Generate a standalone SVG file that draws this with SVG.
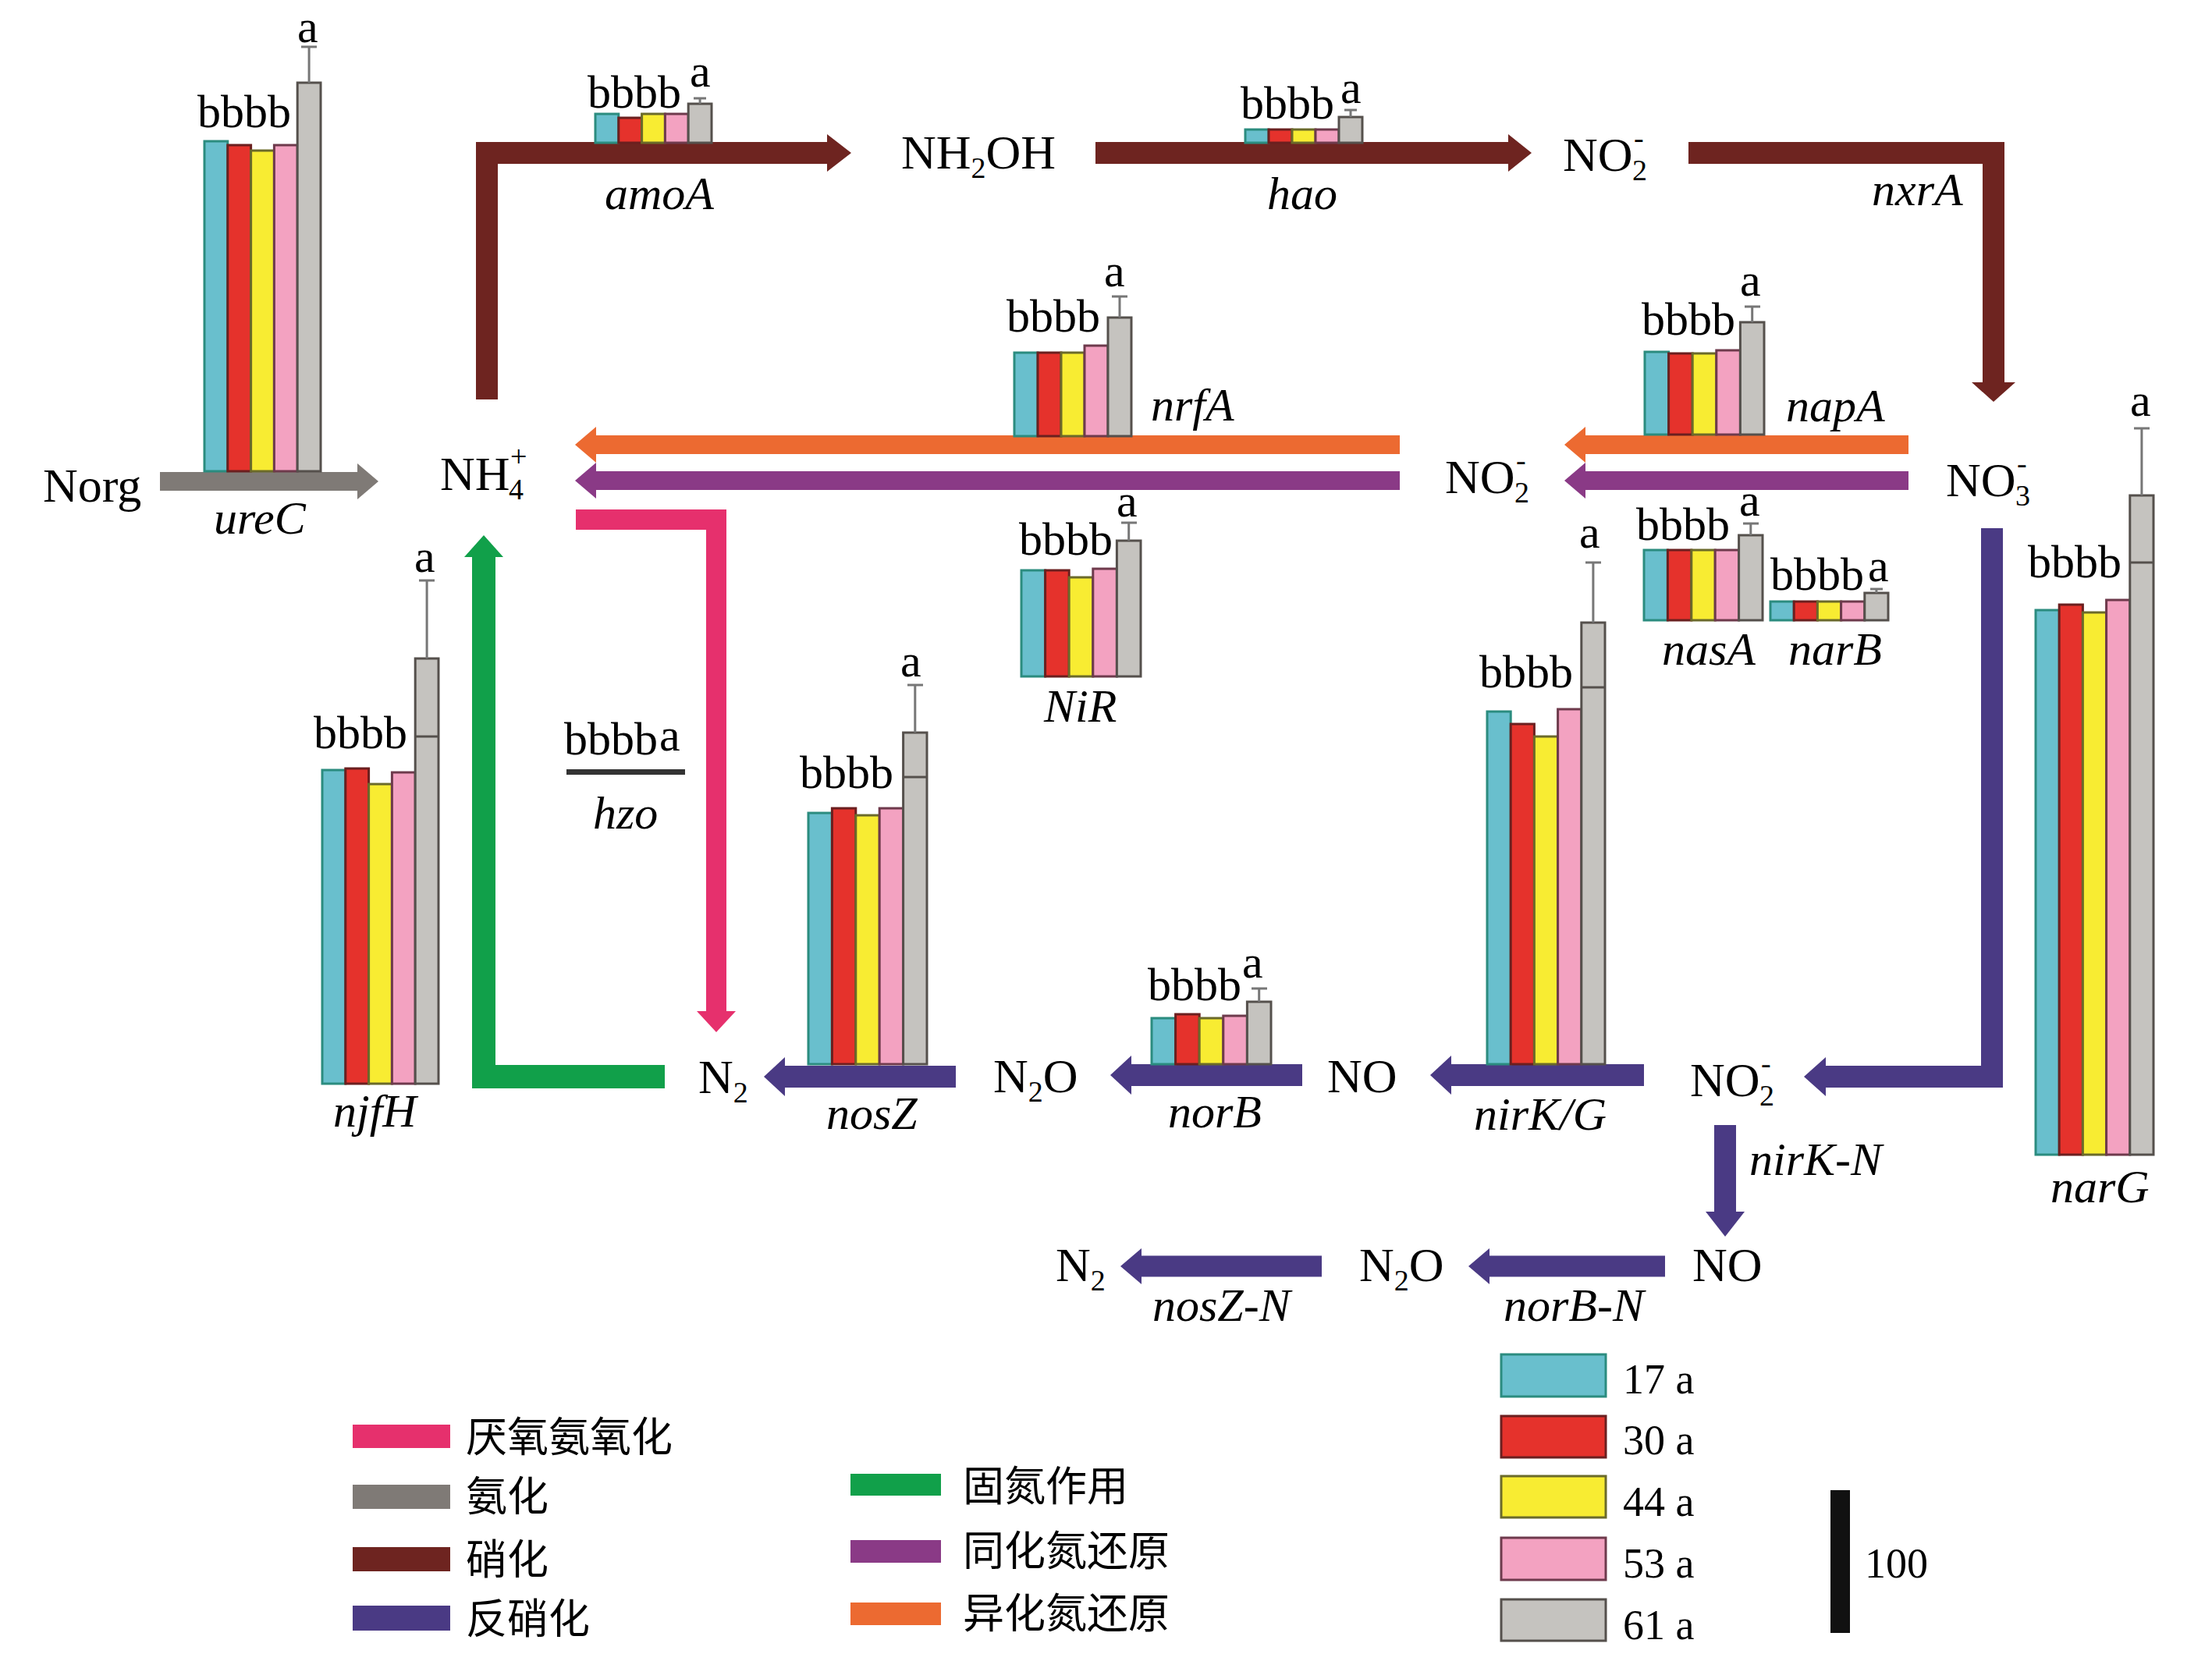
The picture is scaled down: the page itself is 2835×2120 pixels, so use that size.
<svg xmlns="http://www.w3.org/2000/svg" width="2835" height="2120" viewBox="0 0 2835 2120">
<style>
.t{font-family:"Liberation Serif","Times New Roman",serif;font-size:62px;fill:#000}
.sb{font-size:38px}
.g{font-family:"Liberation Serif","Times New Roman",serif;font-size:60px;font-style:italic;fill:#000}
.l{font-family:"Liberation Serif","Times New Roman",serif;font-size:60px;fill:#000}
.cn{font-family:"Liberation Serif","Noto Sans CJK SC",sans-serif;font-size:53px;fill:#000}
.n{font-family:"Liberation Serif","Times New Roman",serif;font-size:54px;fill:#000}
.c1{fill:#69bfcd;stroke:#2b8c7f;stroke-width:3}
.c2{fill:#e5322c;stroke:#6b1f1f;stroke-width:3}
.c3{fill:#f8ec32;stroke:#6b6a2a;stroke-width:3}
.c4{fill:#f3a2c1;stroke:#6e3a4c;stroke-width:3}
.c5{fill:#c5c3bf;stroke:#55504c;stroke-width:3}
.err{stroke:#777;stroke-width:3;fill:none}
.ln{stroke:#55504c;stroke-width:3}
.a{fill:none;stroke-linejoin:miter;stroke-linecap:butt}
</style>

<g id="connectors">
  <path class="a" d="M205,617 H460" stroke="#7f7a76" stroke-width="24"/>
  <polygon points="458,594 485,617 458,640" fill="#7f7a76"/>
  <path class="a" d="M624,512 V196 H1062" stroke="#6e2420" stroke-width="28"/>
  <polygon points="1060,172 1091,196 1060,220" fill="#6e2420"/>
  <path class="a" d="M1404,196 H1935" stroke="#6e2420" stroke-width="28"/>
  <polygon points="1933,172 1963,196 1933,220" fill="#6e2420"/>
  <path class="a" d="M2164,196 H2555 V492" stroke="#6e2420" stroke-width="28"/>
  <polygon points="2527,490 2555,515 2583,490" fill="#6e2420"/>
  <path class="a" d="M2446,570 H2030" stroke="#ec6a31" stroke-width="24"/>
  <polygon points="2032,547 2005,570 2032,593" fill="#ec6a31"/>
  <path class="a" d="M1794,570 H762" stroke="#ec6a31" stroke-width="24"/>
  <polygon points="764,547 737,570 764,593" fill="#ec6a31"/>
  <path class="a" d="M2446,616 H2030" stroke="#8a3a86" stroke-width="24"/>
  <polygon points="2032,593 2005,616 2032,639" fill="#8a3a86"/>
  <path class="a" d="M1794,616 H762" stroke="#8a3a86" stroke-width="24"/>
  <polygon points="764,593 737,616 764,639" fill="#8a3a86"/>
  <path class="a" d="M738,666 H918 V1298" stroke="#e6306d" stroke-width="26"/>
  <polygon points="893,1296 918,1323 943,1296" fill="#e6306d"/>
  <path class="a" d="M852,1380 H620 V712" stroke="#11a04a" stroke-width="30"/>
  <polygon points="595,714 620,686 645,714" fill="#11a04a"/>
  <path class="a" d="M2553,677 V1380 H2338" stroke="#4a3a84" stroke-width="28"/>
  <polygon points="2340,1355 2312,1380 2340,1405" fill="#4a3a84"/>
  <path class="a" d="M2107,1378 H1858" stroke="#4a3a84" stroke-width="28"/>
  <polygon points="1860,1353 1833,1378 1860,1403" fill="#4a3a84"/>
  <path class="a" d="M1669,1378 H1448" stroke="#4a3a84" stroke-width="28"/>
  <polygon points="1450,1353 1423,1378 1450,1403" fill="#4a3a84"/>
  <path class="a" d="M1225,1380 H1004" stroke="#4a3a84" stroke-width="28"/>
  <polygon points="1006,1355 979,1380 1006,1405" fill="#4a3a84"/>
  <path class="a" d="M2211,1442 V1555" stroke="#4a3a84" stroke-width="28"/>
  <polygon points="2186,1553 2211,1585 2236,1553" fill="#4a3a84"/>
  <path class="a" d="M2134,1623 H1907" stroke="#4a3a84" stroke-width="27"/>
  <polygon points="1909,1600 1882,1623 1909,1646" fill="#4a3a84"/>
  <path class="a" d="M1694,1623 H1461" stroke="#4a3a84" stroke-width="27"/>
  <polygon points="1463,1600 1436,1623 1463,1646" fill="#4a3a84"/>
</g>

<g id="Norg"><text class="t" x="55" y="643">Norg</text></g>
<g id="NH4"><text class="t" x="564" y="628">NH</text><text class="t sb" x="652" y="640">4</text><text class="t sb" x="654" y="598">+</text></g>
<g id="NH2OH"><text class="t" x="1155" y="216">NH<tspan class="sb" dy="12">2</tspan><tspan dy="-12">OH</tspan></text></g>
<g id="NO2-top"><text class="t" x="2003" y="219">NO</text><text class="t sb" x="2092" y="231">2</text><text class="t sb" x="2094" y="190">-</text></g>
<g id="NO2-mid"><text class="t" x="1852" y="632">NO</text><text class="t sb" x="1941" y="644">2</text><text class="t sb" x="1943" y="603">-</text></g>
<g id="NO3"><text class="t" x="2494" y="636">NO</text><text class="t sb" x="2583" y="648">3</text><text class="t sb" x="2585" y="607">-</text></g>
<g id="N2-1"><text class="t" x="895" y="1401">N<tspan class="sb" dy="12">2</tspan></text></g>
<g id="N2O-1"><text class="t" x="1273" y="1400">N<tspan class="sb" dy="12">2</tspan><tspan dy="-12">O</tspan></text></g>
<g id="NO-1"><text class="t" x="1701" y="1400">NO</text></g>
<g id="NO2-bot"><text class="t" x="2166" y="1405">NO</text><text class="t sb" x="2255" y="1417">2</text><text class="t sb" x="2257" y="1376">-</text></g>
<g id="N2-2"><text class="t" x="1353" y="1642">N<tspan class="sb" dy="12">2</tspan></text></g>
<g id="N2O-2"><text class="t" x="1742" y="1642">N<tspan class="sb" dy="12">2</tspan><tspan dy="-12">O</tspan></text></g>
<g id="NO-2"><text class="t" x="2169" y="1642">NO</text></g>

<g id="ureC">
  <rect class="c1" x="262" y="181" width="29.8" height="423"/>
  <rect class="c2" x="291.8" y="186" width="29.8" height="418"/>
  <rect class="c3" x="321.6" y="193" width="29.8" height="411"/>
  <rect class="c4" x="351.4" y="186" width="29.8" height="418"/>
  <rect class="c5" x="381.2" y="106" width="29.8" height="498"/>
  <path class="err" d="M396.1,106 V60 M386,60 H406"/>
  <text class="l" x="253" y="163">bbbb</text><text class="l" x="381" y="54">a</text>
  <text class="g" x="274" y="684">ureC</text>
</g>
<g id="amoA">
  <rect class="c1" x="763" y="146" width="29.8" height="37"/>
  <rect class="c2" x="792.8" y="151" width="29.8" height="32"/>
  <rect class="c3" x="822.6" y="146" width="29.8" height="37"/>
  <rect class="c4" x="852.4" y="146" width="29.8" height="37"/>
  <rect class="c5" x="882.2" y="133" width="29.8" height="50"/>
  <path class="err" d="M897.1,133 V126 M889,126 H905"/>
  <text class="l" x="753" y="138">bbbb</text><text class="l" x="884" y="111">a</text>
  <text class="g" x="775" y="268">amoA</text>
</g>
<g id="hao">
  <rect class="c1" x="1596" y="166" width="30" height="17"/>
  <rect class="c2" x="1626" y="166" width="30" height="17"/>
  <rect class="c3" x="1656" y="166" width="30" height="17"/>
  <rect class="c4" x="1686" y="166" width="30" height="17"/>
  <rect class="c5" x="1716" y="150" width="30" height="33"/>
  <path class="err" d="M1731,150 V141 M1723,141 H1739"/>
  <text class="l" x="1590" y="152">bbbb</text><text class="l" x="1718" y="132">a</text>
  <text class="g" x="1624" y="268">hao</text>
</g>
<g id="nxrA"><text class="g" x="2399" y="263">nxrA</text></g>
<g id="nrfA">
  <rect class="c1" x="1300" y="452" width="30" height="107"/>
  <rect class="c2" x="1330" y="452" width="30" height="107"/>
  <rect class="c3" x="1360" y="452" width="30" height="107"/>
  <rect class="c4" x="1390" y="443" width="30" height="116"/>
  <rect class="c5" x="1420" y="407" width="30" height="152"/>
  <path class="err" d="M1435,407 V380 M1425,380 H1445"/>
  <text class="l" x="1290" y="425">bbbb</text><text class="l" x="1415" y="367">a</text>
  <text class="g" x="1475" y="539">nrfA</text>
</g>
<g id="napA">
  <rect class="c1" x="2108" y="451" width="30.6" height="106"/>
  <rect class="c2" x="2138.6" y="453" width="30.6" height="104"/>
  <rect class="c3" x="2169.2" y="453" width="30.6" height="104"/>
  <rect class="c4" x="2199.8" y="449" width="30.6" height="108"/>
  <rect class="c5" x="2230.4" y="413" width="30.6" height="144"/>
  <path class="err" d="M2245.7,413 V393 M2236,393 H2256"/>
  <text class="l" x="2104" y="429">bbbb</text><text class="l" x="2230" y="379">a</text>
  <text class="g" x="2289" y="540">napA</text>
</g>
<g id="NiR">
  <rect class="c1" x="1309" y="731" width="30.6" height="136"/>
  <rect class="c2" x="1339.6" y="731" width="30.6" height="136"/>
  <rect class="c3" x="1370.2" y="740" width="30.6" height="127"/>
  <rect class="c4" x="1400.8" y="729" width="30.6" height="138"/>
  <rect class="c5" x="1431.4" y="693" width="30.6" height="174"/>
  <path class="err" d="M1446.7,693 V670 M1437,670 H1457"/>
  <text class="l" x="1306" y="711">bbbb</text><text class="l" x="1431" y="662">a</text>
  <text class="g" x="1338" y="925">NiR</text>
</g>
<g id="nasA">
  <rect class="c1" x="2107" y="705" width="30.4" height="90"/>
  <rect class="c2" x="2137.4" y="705" width="30.4" height="90"/>
  <rect class="c3" x="2167.8" y="705" width="30.4" height="90"/>
  <rect class="c4" x="2198.2" y="705" width="30.4" height="90"/>
  <rect class="c5" x="2228.6" y="686" width="30.4" height="109"/>
  <path class="err" d="M2243.8,686 V671 M2234,671 H2254"/>
  <text class="l" x="2097" y="692">bbbb</text><text class="l" x="2229" y="661">a</text>
  <text class="g" x="2130" y="852">nasA</text>
</g>
<g id="narB">
  <rect class="c1" x="2269" y="771" width="30.2" height="24"/>
  <rect class="c2" x="2299.2" y="771" width="30.2" height="24"/>
  <rect class="c3" x="2329.4" y="771" width="30.2" height="24"/>
  <rect class="c4" x="2359.6" y="771" width="30.2" height="24"/>
  <rect class="c5" x="2389.8" y="760" width="30.2" height="35"/>
  <path class="err" d="M2404.9,760 V755 M2397,755 H2413"/>
  <text class="l" x="2269" y="756">bbbb</text><text class="l" x="2394" y="745">a</text>
  <text class="g" x="2292" y="852">narB</text>
</g>
<g id="nirKG">
  <rect class="c1" x="1906" y="912" width="30.2" height="452"/>
  <rect class="c2" x="1936.2" y="928" width="30.2" height="436"/>
  <rect class="c3" x="1966.4" y="944" width="30.2" height="420"/>
  <rect class="c4" x="1996.6" y="909" width="30.2" height="455"/>
  <rect class="c5" x="2026.8" y="798" width="30.2" height="566"/>
  <path class="ln" d="M2026.8,881 H2057"/>
  <path class="err" d="M2041.9,798 V721 M2032,721 H2052"/>
  <text class="l" x="1896" y="881">bbbb</text><text class="l" x="2024" y="702">a</text>
  <text class="g" x="1889" y="1448">nirK/G</text>
</g>
<g id="narG">
  <rect class="c1" x="2609" y="782" width="30.2" height="698"/>
  <rect class="c2" x="2639.2" y="775" width="30.2" height="705"/>
  <rect class="c3" x="2669.4" y="785" width="30.2" height="695"/>
  <rect class="c4" x="2699.6" y="769" width="30.2" height="711"/>
  <rect class="c5" x="2729.8" y="635" width="30.2" height="845"/>
  <path class="ln" d="M2729.8,721 H2760"/>
  <path class="err" d="M2744.9,635 V549 M2735,549 H2755"/>
  <text class="l" x="2599" y="740">bbbb</text><text class="l" x="2730" y="533">a</text>
  <text class="g" x="2628" y="1541">narG</text>
</g>
<g id="njfH">
  <rect class="c1" x="413" y="987" width="29.8" height="402"/>
  <rect class="c2" x="442.8" y="985" width="29.8" height="404"/>
  <rect class="c3" x="472.6" y="1005" width="29.8" height="384"/>
  <rect class="c4" x="502.4" y="990" width="29.8" height="399"/>
  <rect class="c5" x="532.2" y="844" width="29.8" height="545"/>
  <path class="ln" d="M532.2,944 H562"/>
  <path class="err" d="M547.1,844 V744 M537,744 H557"/>
  <text class="l" x="402" y="959">bbbb</text><text class="l" x="531" y="733">a</text>
  <text class="g" x="427" y="1444">njfH</text>
</g>
<g id="hzo">
  <rect x="726" y="986" width="152" height="7" fill="#333"/>
  <text class="l" x="723" y="967">bbbb</text><text class="l" x="845" y="962">a</text>
  <text class="g" x="760" y="1062">hzo</text>
</g>
<g id="nosZ">
  <rect class="c1" x="1036" y="1042" width="30.4" height="322"/>
  <rect class="c2" x="1066.4" y="1036" width="30.4" height="328"/>
  <rect class="c3" x="1096.8" y="1045" width="30.4" height="319"/>
  <rect class="c4" x="1127.2" y="1036" width="30.4" height="328"/>
  <rect class="c5" x="1157.6" y="939" width="30.4" height="425"/>
  <path class="ln" d="M1157.6,996 H1188"/>
  <path class="err" d="M1172.8,939 V878 M1163,878 H1183"/>
  <text class="l" x="1025" y="1010">bbbb</text><text class="l" x="1154" y="867">a</text>
  <text class="g" x="1059" y="1447">nosZ</text>
</g>
<g id="norB">
  <rect class="c1" x="1476" y="1305" width="30.6" height="59"/>
  <rect class="c2" x="1506.6" y="1300" width="30.6" height="64"/>
  <rect class="c3" x="1537.2" y="1305" width="30.6" height="59"/>
  <rect class="c4" x="1567.8" y="1302" width="30.6" height="62"/>
  <rect class="c5" x="1598.4" y="1284" width="30.6" height="80"/>
  <path class="err" d="M1613.7,1284 V1267 M1604,1267 H1624"/>
  <text class="l" x="1471" y="1282">bbbb</text><text class="l" x="1592" y="1253">a</text>
  <text class="g" x="1497" y="1445">norB</text>
</g>
<g id="nirK-N"><text class="g" x="2242" y="1506">nirK-N</text></g>
<g id="nosZ-N"><text class="g" x="1477" y="1693">nosZ-N</text></g>
<g id="norB-N"><text class="g" x="1927" y="1693">norB-N</text></g>

<g id="legend-process">
  <rect x="452" y="1826" width="125" height="30" fill="#e6306d"/>
  <text class="cn" x="597" y="1861">厌氧氨氧化</text>
  <rect x="452" y="1903" width="125" height="31" fill="#7f7a76"/>
  <text class="cn" x="597" y="1937">氨化</text>
  <rect x="452" y="1983" width="125" height="31" fill="#6e2420"/>
  <text class="cn" x="597" y="2018">硝化</text>
  <rect x="452" y="2058" width="125" height="32" fill="#4a3a84"/>
  <text class="cn" x="597" y="2094">反硝化</text>
  <rect x="1090" y="1889" width="116" height="28" fill="#11a04a"/>
  <text class="cn" x="1234" y="1924">固氮作用</text>
  <rect x="1090" y="1974" width="116" height="29" fill="#8a3a86"/>
  <text class="cn" x="1234" y="2007">同化氮还原</text>
  <rect x="1090" y="2054" width="116" height="29" fill="#ec6a31"/>
  <text class="cn" x="1234" y="2087">异化氮还原</text>
</g>
<g id="legend-age">
  <rect class="c1" x="1924" y="1736" width="134" height="54"/>
  <text class="n" x="2080" y="1786">17 a</text>
  <rect class="c2" x="1924" y="1815" width="134" height="53"/>
  <text class="n" x="2080" y="1864">30 a</text>
  <rect class="c3" x="1924" y="1892" width="134" height="53"/>
  <text class="n" x="2080" y="1943">44 a</text>
  <rect class="c4" x="1924" y="1971" width="134" height="54"/>
  <text class="n" x="2080" y="2022">53 a</text>
  <rect class="c5" x="1924" y="2050" width="134" height="53"/>
  <text class="n" x="2080" y="2101">61 a</text>
</g>
<g id="scale">
  <rect x="2346" y="1910" width="25" height="183" fill="#111"/>
  <text class="n" x="2390" y="2022">100</text>
</g>
</svg>
